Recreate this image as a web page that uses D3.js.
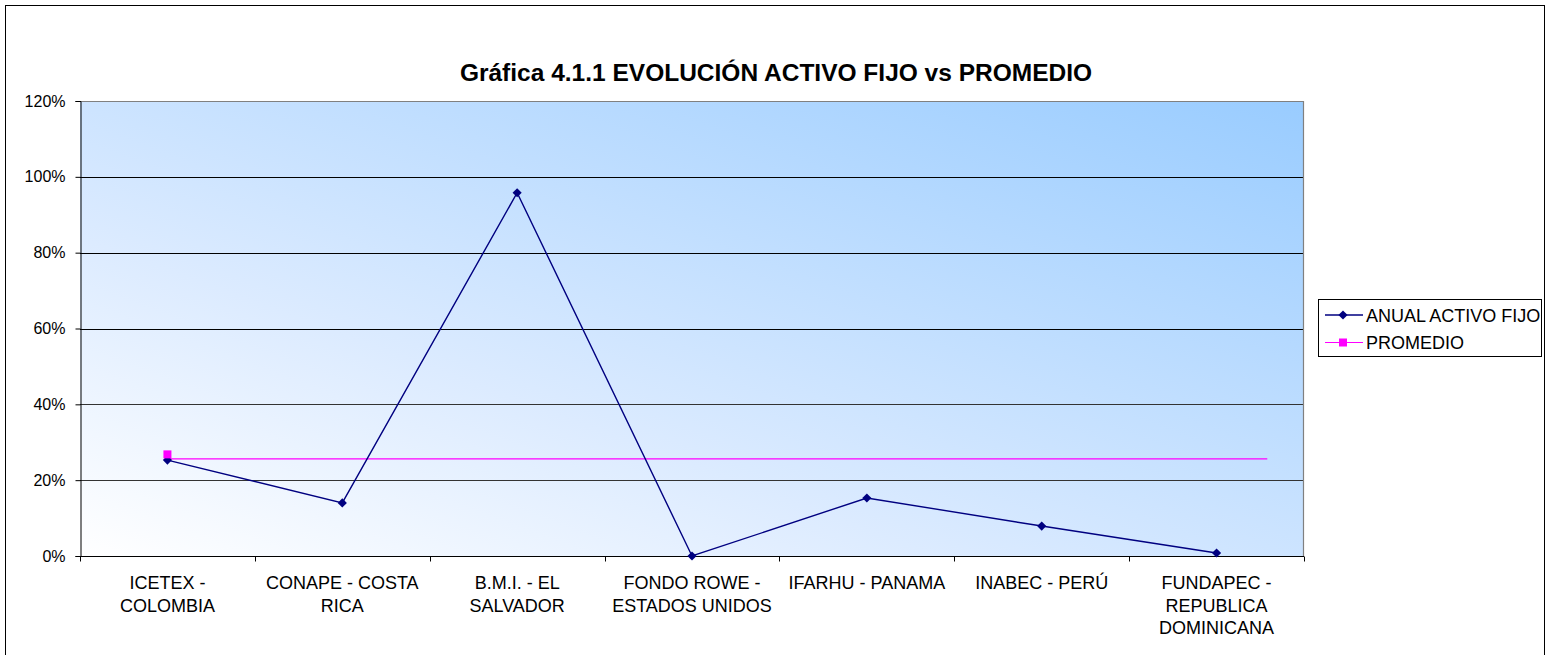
<!DOCTYPE html>
<html><head><meta charset="utf-8">
<script src="https://cdn.jsdelivr.net/npm/d3@7"></script>
<style>body{margin:0;background:#fff}svg{display:block;font-family:"Liberation Sans",Arial,sans-serif}</style>
</head><body>
<svg id="c" width="1546" height="655"></svg>
<script>
const categories = [
  ["ICETEX -","COLOMBIA"],
  ["CONAPE - COSTA","RICA"],
  ["B.M.I. - EL","SALVADOR"],
  ["FONDO ROWE -","ESTADOS UNIDOS"],
  ["IFARHU - PANAMA"],
  ["INABEC - PERÚ"],
  ["FUNDAPEC -","REPUBLICA","DOMINICANA"]
];
const anualActivoFijo = [0.253, 0.14, 0.958, 0.0, 0.153, 0.079, 0.008];
const promedioLine = 0.256;
const promedioMarker = 0.268;
const yTicks = [0, 0.2, 0.4, 0.6, 0.8, 1.0, 1.2];
const title = "Gráfica 4.1.1 EVOLUCIÓN ACTIVO FIJO vs PROMEDIO";
const legendLabels = ["ANUAL ACTIVO FIJO", "PROMEDIO"];

const svg = d3.select("#c");
const m = {left: 80, right: 1304, top: 101, bottom: 556};

svg.append("rect").attr("x",5.5).attr("y",5.5).attr("width",1539).attr("height",660)
  .attr("fill","#fff").attr("stroke","#000").attr("stroke-width",1);

const defs = svg.append("defs");
const g = defs.append("linearGradient").attr("id","bg").attr("x1","0").attr("y1","1").attr("x2","1").attr("y2","0");
g.append("stop").attr("offset","0").attr("stop-color","#ffffff");
g.append("stop").attr("offset","0.35").attr("stop-color","#dcebff");
g.append("stop").attr("offset","1").attr("stop-color","#99ccff");

const idx = categories.map((d,i)=>i);
const x = d3.scaleBand().domain(idx).range([m.left, m.right]).padding(0);
const y = d3.scaleLinear().domain([0, 1.2]).range([m.bottom, m.top]);
const cx = i => x(i) + x.bandwidth()/2;

svg.append("rect").attr("x",m.left).attr("y",m.top).attr("width",m.right-m.left).attr("height",m.bottom-m.top)
  .attr("fill","url(#bg)");

svg.append("g").selectAll("line").data(yTicks.filter(t=>t>0 && t<1.2)).join("line")
  .attr("x1",m.left).attr("x2",m.right).attr("y1",d=>Math.round(y(d))+0.5).attr("y2",d=>Math.round(y(d))+0.5)
  .attr("stroke",d=>d<0.5?"#333":"#000").attr("stroke-width",1);
svg.append("path").attr("d",`M${m.left},${m.top+0.5}H${m.right-0.5}V${m.bottom}`)
  .attr("fill","none").attr("stroke","#808080").attr("stroke-width",1.2);

const yAxis = svg.append("g").attr("transform",`translate(${m.left+0.5},0)`)
  .call(d3.axisLeft(y).tickValues(yTicks).tickFormat(d3.format(".0%")).tickSize(5).tickPadding(10));
yAxis.select(".domain").attr("stroke","#000");
yAxis.selectAll(".tick line").attr("stroke","#000");
yAxis.selectAll("text").attr("font-size",16).attr("fill","#000").attr("font-family","Liberation Sans, Arial");

const xAxis = svg.append("g").attr("transform",`translate(0,${m.bottom+0.5})`);
xAxis.append("line").attr("x1",m.left).attr("x2",m.right).attr("stroke","#000");
xAxis.selectAll(".tk").data(d3.range(categories.length+1)).join("line").attr("class","tk")
  .attr("x1",i=>Math.round(m.left + i*x.bandwidth())+0.5).attr("x2",i=>Math.round(m.left + i*x.bandwidth())+0.5)
  .attr("y1",0).attr("y2",5).attr("stroke","#000");
const lab = svg.append("g").selectAll("text").data(categories).join("text")
  .attr("x",(d,i)=>cx(i)).attr("y",589).attr("text-anchor","middle").attr("font-size",18).attr("fill","#000");
lab.selectAll("tspan").data(d=>d).join("tspan")
  .attr("x",function(){return this.parentNode.getAttribute("x");})
  .attr("dy",(d,i)=>i===0?0:22.5).text(d=>d);

const lastX = cx(categories.length-1) + x.bandwidth()*0.29;
svg.append("line").attr("x1",cx(0)).attr("x2",lastX).attr("y1",y(promedioLine)).attr("y2",y(promedioLine))
  .attr("stroke","#ff00ff").attr("stroke-width",1.2);

const line = d3.line().x((d,i)=>cx(i)).y(d=>y(d));
svg.append("path").datum(anualActivoFijo).attr("d",line).attr("fill","none")
  .attr("stroke","#000080").attr("stroke-width",1.4);

const diamond = d3.symbol().type(d3.symbolSquare).size(42);
svg.append("g").selectAll("path").data(anualActivoFijo).join("path")
  .attr("d",diamond).attr("transform",(d,i)=>`translate(${cx(i)},${y(d)}) rotate(45)`)
  .attr("fill","#000080");

svg.append("rect").attr("x",cx(0)-4).attr("y",y(promedioMarker)-4).attr("width",8).attr("height",8).attr("fill","#ff00ff");

svg.append("text").attr("x",776).attr("y",81).attr("text-anchor","middle").attr("font-size",24.5)
  .attr("font-weight","bold").attr("fill","#000").text(title);

const lg = svg.append("g");
lg.append("rect").attr("x",1318.5).attr("y",299.5).attr("width",223).attr("height",57)
  .attr("fill","#fff").attr("stroke","#000");
const colors = ["#000080","#ff00ff"];
legendLabels.forEach((t,i)=>{
  const yy = 315 + i*27.5;
  lg.append("line").attr("x1",1325).attr("x2",1363).attr("y1",yy).attr("y2",yy).attr("stroke",colors[i]).attr("stroke-width",i===0?1.4:1.2);
  if(i===0) lg.append("path").attr("d",diamond).attr("transform",`translate(1343,${yy}) rotate(45)`).attr("fill",colors[i]);
  else lg.append("rect").attr("x",1339).attr("y",yy-4).attr("width",8).attr("height",8).attr("fill",colors[i]);
  lg.append("text").attr("x",1366).attr("y",yy+6.5).attr("font-size",18).attr("fill","#000").text(t);
});
</script>
</body></html>
